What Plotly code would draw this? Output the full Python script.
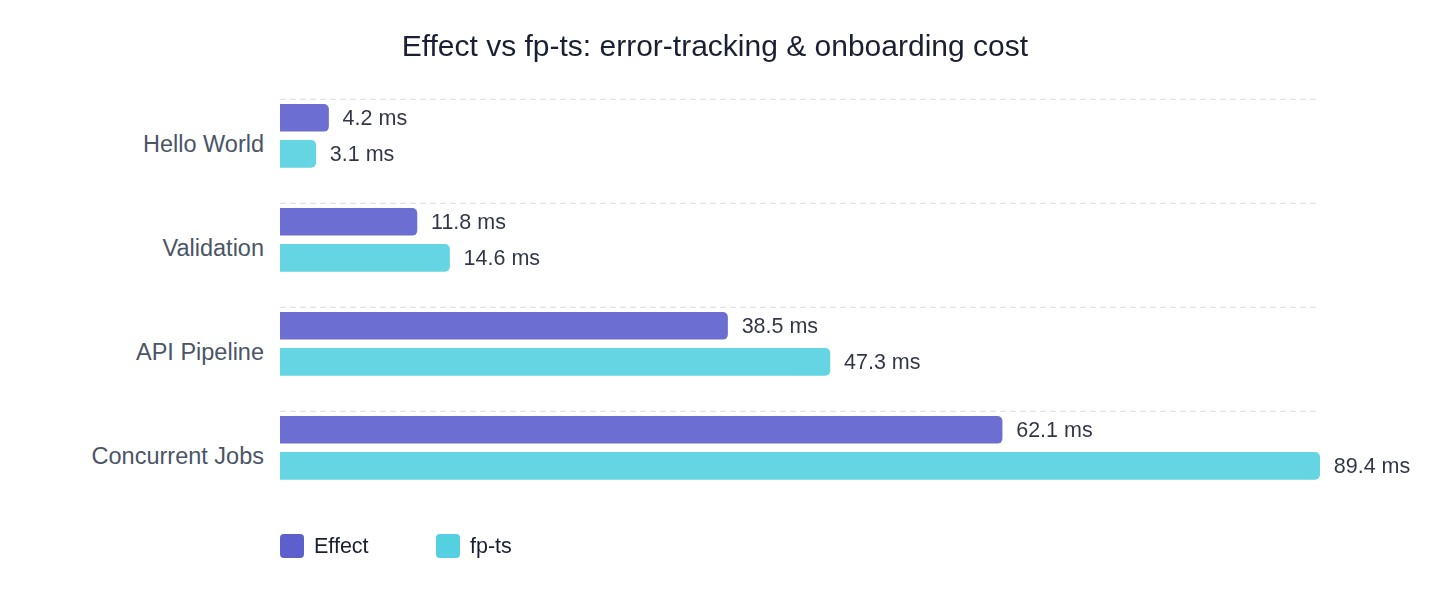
import plotly.graph_objects as go

categories = ["Hello World", "Validation", "API Pipeline", "Concurrent Jobs"]
effect_ms = [4.2, 11.8, 38.5, 62.1]
fpts_ms = [3.1, 14.6, 47.3, 89.4]
series_names = ["Effect", "fp-ts"]
series_colors = ["#5c5fcc", "#54d0e0"]
title_text = "Effect vs fp-ts: error-tracking & onboarding cost"

FONT = "Helvetica, Arial, Liberation Sans, sans-serif"
DARK = "#1a1f33"
SLATE = "#4a5568"

BAR_W = 0.266
fig = go.Figure()
for name, vals, color, off in [
    (series_names[0], effect_ms, series_colors[0], -0.385),
    (series_names[1], fpts_ms, series_colors[1], -0.038),
]:
    fig.add_trace(go.Bar(
        name=name, y=categories, x=vals, orientation="h",
        marker=dict(color=color, line=dict(width=0)), opacity=0.9,
        width=BAR_W, offset=off,
        text=[f"{v} ms" for v in vals],
        texttemplate="\u2002%{text}",
        textposition="outside", constraintext="none", cliponaxis=False,
        textfont=dict(family=FONT, size=21.5, color=DARK),
        showlegend=False, hoverinfo="x+y",
    ))

# dashed separators above each category band
for i, _ in enumerate(categories):
    fig.add_shape(type="line", xref="paper", x0=0, x1=1, yref="y",
                  y0=i - 0.43, y1=i - 0.43,
                  line=dict(color="#e2e3ea", width=1.2, dash="6px,4px"), layer="below")

# custom legend
legend_pos = [0.0, 0.15]
sq = "M -8,-12 H 8 Q 12,-12 12,-8 V 8 Q 12,12 8,12 H -8 Q -12,12 -12,8 V -8 Q -12,-12 -8,-12 Z"
for name, color, lx in zip(series_names, series_colors, legend_pos):
    fig.add_shape(type="path", xref="paper", yref="paper", xsizemode="pixel", ysizemode="pixel",
                  xanchor=lx + 12 / 1040, yanchor=-0.0913, path=sq,
                  fillcolor=color, line=dict(width=0))
    fig.add_annotation(xref="paper", yref="paper", x=lx + 32 / 1040, y=-0.0913,
                       text=name, showarrow=False, xanchor="left", yanchor="middle",
                       font=dict(family=FONT, size=21.5, color=DARK))

fig.update_layout(
    width=1434, height=596,
    margin=dict(l=280, r=114, t=92, b=88),
    paper_bgcolor="white", plot_bgcolor="white",
    barmode="overlay",
    barcornerradius=5,
    title=dict(text=title_text, x=0.4985, xanchor="center", y=1 - 45 / 596, yanchor="middle",
               yref="container", font=dict(family=FONT, size=30, color=DARK)),
    xaxis=dict(range=[0, max(max(effect_ms), max(fpts_ms))], showgrid=False, zeroline=False,
               showticklabels=False, showline=False, fixedrange=True),
    yaxis=dict(type="category", categoryorder="array", categoryarray=categories,
               range=[len(categories) - 0.5, -0.5], showgrid=False, zeroline=False, showline=False,
               ticks="", ticklabelstandoff=15,
               tickfont=dict(family=FONT, size=23.5, color=SLATE)),
    showlegend=False,
)

fig.write_html("out.html")
